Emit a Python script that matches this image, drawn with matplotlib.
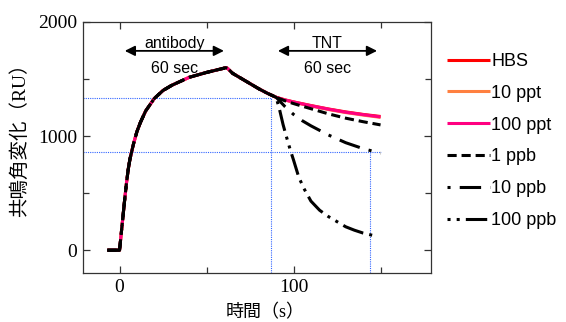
import numpy as np
import matplotlib
matplotlib.use('Agg')
import matplotlib.pyplot as plt
from matplotlib.ticker import MultipleLocator

# association / early dissociation, shared by every sample
t_assoc = [-7, 0, 1, 2, 3, 4, 5, 6, 8, 10, 12, 15, 20, 25, 30, 40, 50, 60,
           61, 62, 65, 70, 75, 80, 85, 90]
ru_assoc = [0, 0, 150, 300, 450, 590, 710, 800, 930, 1040, 1120, 1220, 1330,
            1400, 1445, 1515, 1558, 1595, 1600, 1595, 1550, 1505, 1460, 1415,
            1375, 1340]

# dissociation after TNT injection
t_tail = [95, 100, 105, 110, 120, 130, 140, 150]
ru_hbs = [1318, 1300, 1284, 1268, 1238, 1212, 1190, 1172]
ru_10ppt = [1316, 1297, 1280, 1264, 1233, 1206, 1184, 1164]
ru_100ppt = [1317, 1299, 1282, 1266, 1236, 1209, 1188, 1168]
ru_1ppb = [1310, 1285, 1262, 1240, 1195, 1157, 1126, 1098]
ru_10ppb = [1260, 1190, 1135, 1090, 1010, 942, 890, 850]

t_tail_100ppb = [92, 94, 96, 98, 100, 103, 106, 110, 115, 120, 125, 130,
                 135, 140, 146]
ru_100ppb = [1230, 1100, 990, 885, 790, 640, 540, 430, 350, 295, 250, 205,
             175, 150, 128]

labels = ['HBS', '10 ppt', '100 ppt', '1 ppb', '10 ppb', '100 ppb']

# guide points (dotted blue)
guide_hi = (87, 1337)
guide_lo = (144, 858)
guide_lo_end = 150

xmin, xmax = -21, 179
ymin, ymax = -200, 2000

fig = plt.figure(figsize=(5.66, 3.22), dpi=100)
ax = fig.add_axes([83/566, 1 - 273/322, 348/566, 251/322])

cjk = ['Liberation Serif', 'Noto Sans CJK JP']


def series(tail_t, tail_v):
    return (np.concatenate([t_assoc, tail_t]),
            np.concatenate([ru_assoc, tail_v]))


lw = 2.2
dash_1ppb = (3, 1.6)
dash_10ppb = (7, 3, 1, 3)
dash_100ppb = (7, 2, 1, 2, 1, 2)

colored = [(ru_hbs, '#ff0000'), (ru_10ppt, '#ff8040'), (ru_100ppt, '#ff0080')]
for i, (vals, col) in enumerate(colored):
    t, v = series(t_tail, vals)
    ax.plot(t, v, color=col, lw=lw, label=labels[i], solid_capstyle='butt')

t, v = series(t_tail, ru_1ppb)
ax.plot(t, v, color='k', lw=lw, dashes=dash_1ppb, label=labels[3])
t, v = series(t_tail, ru_10ppb)
ax.plot(t, v, color='k', lw=lw, dashes=dash_10ppb, label=labels[4])
t, v = series(t_tail_100ppb, ru_100ppb)
ax.plot(t, v, color='k', lw=lw, dashes=dash_100ppb, label=labels[5])

# dotted guides
gkw = dict(color='#3366ff', lw=0.8, ls=(0, (1, 1)), zorder=0.5)
ax.plot([xmin, guide_hi[0]], [guide_hi[1], guide_hi[1]], **gkw)
ax.plot([guide_hi[0], guide_hi[0]], [ymin, guide_hi[1]], **gkw)
ax.plot([xmin, guide_lo_end], [guide_lo[1], guide_lo[1]], **gkw)
ax.plot([guide_lo[0], guide_lo[0]], [ymin, guide_lo[1]], **gkw)

# injection periods
akw = dict(arrowstyle='<|-|>', color='k', lw=1.3, mutation_scale=15,
           shrinkA=0, shrinkB=0)
for x0, x1, name in [(3, 60, 'antibody'), (91, 148, 'TNT')]:
    ax.annotate('', xy=(x0, 1747), xytext=(x1, 1747), arrowprops=akw)
    xc = (x0 + x1) / 2
    ax.text(xc, 1815, name, ha='center', va='center', fontsize=11.5,
            family='Liberation Sans')
    ax.text(xc, 1595, '60 sec', ha='center', va='center', fontsize=11.5,
            family='Liberation Sans')

ax.set_xlim(xmin, xmax)
ax.set_ylim(ymin, ymax)
ax.xaxis.set_major_locator(MultipleLocator(100))
ax.xaxis.set_minor_locator(MultipleLocator(50))
ax.yaxis.set_major_locator(MultipleLocator(1000))
ax.yaxis.set_minor_locator(MultipleLocator(500))
ax.tick_params(which='both', direction='in', top=True, right=True,
               width=0.9, color='#333333')
ax.tick_params(which='major', length=5, labelsize=14, pad=4,
               labelfontfamily='Liberation Serif')
ax.tick_params(which='minor', length=4)
for sp in ax.spines.values():
    sp.set_linewidth(0.9)
    sp.set_color('#333333')

ax.set_ylabel('共鳴角変化（RU）', fontsize=14, family=cjk)
ax.set_xlabel('時間（s）', fontsize=13, family=cjk)
ax.yaxis.set_label_coords(-0.155, 0.55)
ax.xaxis.set_label_coords(0.523, -0.125)

leg = fig.legend(loc='upper left', bbox_to_anchor=(447/566, 1 - 53/322),
                 frameon=False, handlelength=2.4,
                 handletextpad=0.05, borderpad=0, borderaxespad=0,
                 labelspacing=0.82, prop={'family': 'Liberation Sans',
                                          'size': 13})
# legend keys for the dotted styles start with their dots
leg_lines = leg.get_lines()
leg_lines[4].set_linestyle((10, dash_10ppb))
leg_lines[5].set_linestyle((9, dash_100ppb))

fig.savefig('out.png', dpi=100)
